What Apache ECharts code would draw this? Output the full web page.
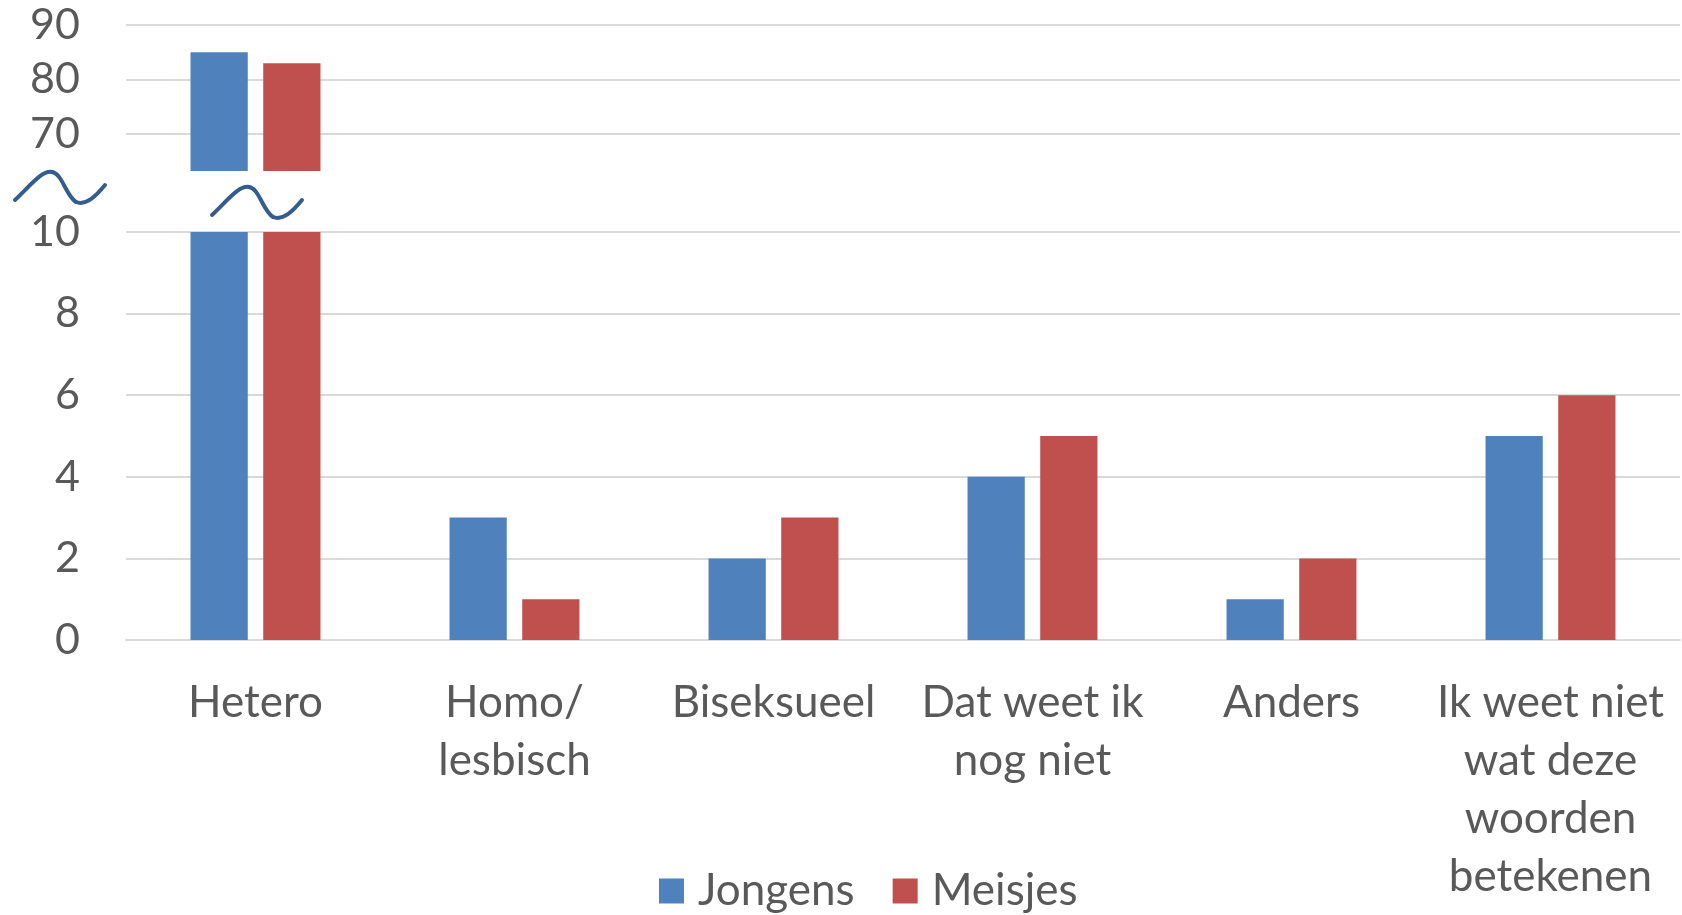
<!DOCTYPE html>
<html>
<head>
<meta charset="utf-8">
<script src="https://cdn.jsdelivr.net/npm/echarts@6/dist/echarts.min.js"></script>
<style>
  html, body { margin: 0; padding: 0; background: #fff; }
  #chart { width: 1682px; height: 915px; }
</style>
</head>
<body>
<div id="chart"></div>
<script>
const categories = ['Hetero', 'Homo/\nlesbisch', 'Biseksueel', 'Dat weet ik\nnog niet', 'Anders', 'Ik weet niet\nwat deze\nwoorden\nbetekenen']
const jongens = [85, 3, 2, 4, 1, 5]
const meisjes = [83, 1, 3, 5, 2, 6]
const lowerTicks = [0, 10, 2]   // min, max, interval
const upperTicks = [60, 90, 10]
const breakLow = 63.2           // waar de bovenste balken beginnen

const blue = '#4f81bd'
const red = '#c0504d'
const textColor = '#595959'
const gridColor = '#d9d9d9'
const font = 'Lato, "Open Sans", sans-serif'

// bovenste deel: alleen waarden boven de breuk
const baseOf = arr => arr.map(v => (v > lowerTicks[1] ? breakLow : '-'))
const topOf = arr => arr.map(v => (v > lowerTicks[1] ? v - breakLow : '-'))

const chart = echarts.init(document.getElementById('chart'))

// golflijn voor de asbreuk, drie bezier-stukjes
const waveParts = [
  [15, 200, 30, 186, 42, 170, 52, 172],
  [52, 172, 62, 173, 66, 196, 76, 202],
  [76, 202, 86, 206, 96, 196, 105, 185],
]
function makeWave(dx, dy) {
  return {
    type: 'group',
    x: dx,
    y: dy,
    silent: true,
    children: waveParts.map(p => ({
      type: 'bezierCurve',
      shape: { x1: p[0], y1: p[1], cpx1: p[2], cpy1: p[3], cpx2: p[4], cpy2: p[5], x2: p[6], y2: p[7] },
      style: { fill: null, stroke: '#335d8f', lineWidth: 4, lineCap: 'round' },
    })),
  }
}

const barCommon = {
  type: 'bar',
  barWidth: '22.1%',
  barGap: '27%',
  silent: true,
}

const option = {
  animation: false,
  textStyle: { fontFamily: font },
  legend: {
    data: ['Jongens', 'Meisjes'],
    left: 654,
    top: 864,
    icon: 'rect',
    itemWidth: 25,
    itemHeight: 25,
    itemGap: 38,
    textStyle: { fontSize: 44, color: textColor, fontFamily: font, padding: [0, 0, 0, 9] },
  },
  grid: [
    { left: 126, right: 2, top: 232, height: 408 },
    { left: 126, right: 2, top: 25, height: 163.5 },
  ],
  xAxis: [
    {
      gridIndex: 0,
      type: 'category',
      data: categories,
      axisTick: { show: false },
      axisLine: { lineStyle: { color: gridColor, width: 2 } },
      axisLabel: {
        color: textColor,
        fontSize: 44,
        lineHeight: 58,
        margin: 34,
        interval: 0,
        fontFamily: font,
      },
    },
    {
      gridIndex: 1,
      type: 'category',
      data: categories,
      show: false,
    },
  ],
  yAxis: [
    {
      gridIndex: 0,
      type: 'value',
      min: lowerTicks[0],
      max: lowerTicks[1],
      interval: lowerTicks[2],
      axisLine: { show: false },
      axisTick: { show: false },
      axisLabel: { color: textColor, fontSize: 43, margin: 46, fontFamily: font },
      splitLine: { lineStyle: { color: gridColor, width: 2 } },
    },
    {
      gridIndex: 1,
      type: 'value',
      min: upperTicks[0],
      max: upperTicks[1],
      interval: upperTicks[2],
      axisLine: { show: false },
      axisTick: { show: false },
      axisLabel: { color: textColor, fontSize: 43, margin: 46, showMinLabel: false, fontFamily: font },
      splitLine: { showMinLine: false, lineStyle: { color: gridColor, width: 2 } },
    },
  ],
  series: [
    Object.assign({}, barCommon, { name: 'Jongens', xAxisIndex: 0, yAxisIndex: 0, data: jongens, itemStyle: { color: blue } }),
    Object.assign({}, barCommon, { name: 'Meisjes', xAxisIndex: 0, yAxisIndex: 0, data: meisjes, itemStyle: { color: red } }),
    Object.assign({}, barCommon, { name: 'basisJ', stack: 'j', xAxisIndex: 1, yAxisIndex: 1, data: baseOf(jongens), itemStyle: { color: 'transparent' } }),
    Object.assign({}, barCommon, { name: 'Jongens', stack: 'j', xAxisIndex: 1, yAxisIndex: 1, data: topOf(jongens), itemStyle: { color: blue } }),
    Object.assign({}, barCommon, { name: 'basisM', stack: 'm', xAxisIndex: 1, yAxisIndex: 1, data: baseOf(meisjes), itemStyle: { color: 'transparent' } }),
    Object.assign({}, barCommon, { name: 'Meisjes', stack: 'm', xAxisIndex: 1, yAxisIndex: 1, data: topOf(meisjes), itemStyle: { color: red } }),
  ],
  graphic: [makeWave(0, 0), makeWave(197, 15)],
}

option && chart.setOption(option)
</script>
</body>
</html>
